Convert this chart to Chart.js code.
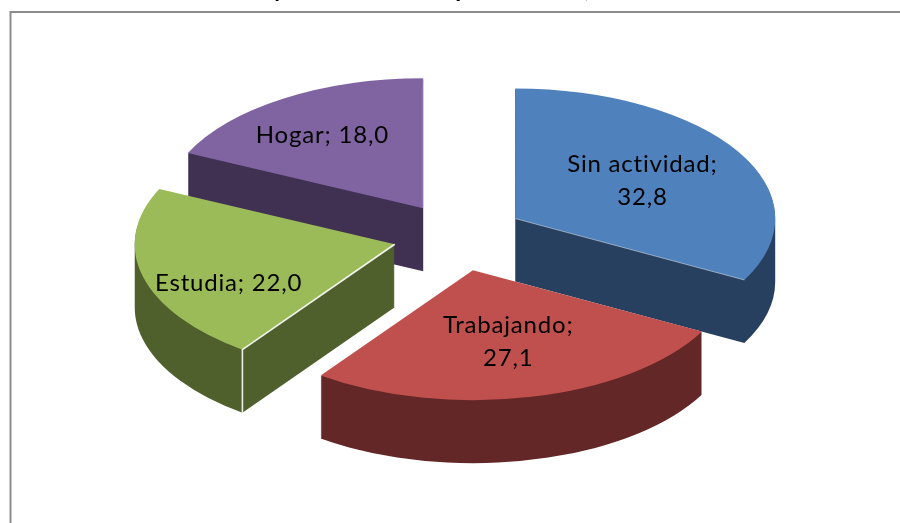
<!DOCTYPE html>
<html>
<head>
<meta charset="utf-8">
<style>html,body{margin:0;padding:0;background:#fff}canvas{display:block}</style>
<script src="https://cdn.jsdelivr.net/npm/chart.js@4"></script>
</head>
<body>
<canvas id="c" width="900" height="523"></canvas>
<script>
const categories = ['Sin actividad', 'Trabajando', 'Estudia', 'Hogar'];
const values = [32.8, 27.1, 22.0, 18.0];
const topColors = ['#4F81BD', '#C0504D', '#9BBB59', '#8064A2'];
const wallColors = ['#28405F', '#622726', '#4F602D', '#403152'];
const titleFragments = ['y', 'p', ','];

const view = {cx: 458.6, cy: 236, rx: 260, ry: 130, explode: 66, depth: 63};
const paintOrder = [3, 0, 2, 1];
const sliceShift = [[0, -0.5], [-0.5, 2], [0, 0], [0, 0]];
const labelReach = [0.57, 0.57, 0.66, 0.68];
const labelNudge = [[0, 0], [2, -1], [0, 18], [-6, 2]];
const labelWrap = [true, true, false, false];
const highlight = [0.45, 0, 0.9, 0.35];
const titleX = [279, 462, 587];

function mid(a) { return (a.startAngle + a.endAngle) / 2; }
function apex(a, i) {
  const m = mid(a);
  return {
    x: view.cx + Math.cos(m) * view.explode + sliceShift[i][0],
    y: view.cy + Math.sin(m) * view.explode * view.ry / view.rx + sliceShift[i][1]
  };
}
function place(ctx, a, i) {
  const sx = view.rx / a.outerRadius, sy = view.ry / a.outerRadius;
  const p = apex(a, i);
  ctx.translate(p.x, p.y);
  ctx.scale(sx, sy);
  ctx.translate(-a.x, -a.y);
  return sy;
}
const pie3d = {
  id: 'pie3d',
  beforeDraw(chart) {
    const ctx = chart.ctx;
    ctx.save();
    ctx.fillStyle = '#fff';
    ctx.fillRect(0, 0, 900, 523);
    ctx.strokeStyle = '#8C8C8C';
    ctx.lineWidth = 2;
    ctx.beginPath();
    ctx.moveTo(10.5, 523);
    ctx.lineTo(10.5, 12);
    ctx.lineTo(900, 12);
    ctx.stroke();
    ctx.fillStyle = '#000';
    ctx.font = 'bold 24px Lato';
    ctx.textAlign = 'center';
    ctx.textBaseline = 'alphabetic';
    titleFragments.forEach((t, i) => ctx.fillText(t, titleX[i], -3));
    ctx.restore();
  },
  beforeDatasetDraw(chart) {
    const ctx = chart.ctx;
    const arcs = chart.getDatasetMeta(0).data;
    paintOrder.forEach(i => {
      const a = arcs[i];
      ctx.save();
      const sy = place(ctx, a, i);
      ctx.fillStyle = wallColors[i];
      ctx.beginPath();
      for (let k = view.depth; k >= 1; k--) {
        ctx.moveTo(a.x, a.y + k / sy);
        ctx.arc(a.x, a.y + k / sy, a.outerRadius, a.startAngle, a.endAngle);
        ctx.closePath();
      }
      ctx.fill('nonzero');
      ctx.restore();
    });
    paintOrder.forEach(i => {
      const a = arcs[i];
      ctx.save();
      const sy = place(ctx, a, i);
      a.draw(ctx);
      if (highlight[i] > 0) {
        const edge = i === 2 ? a.startAngle : a.endAngle;
        const ex = a.x + Math.cos(edge) * a.outerRadius;
        const ey = a.y + Math.sin(edge) * a.outerRadius;
        ctx.beginPath();
        ctx.moveTo(a.x, a.y);
        ctx.lineTo(ex, ey);
        if (i === 2) {
          ctx.lineTo(ex, ey + view.depth / sy);
        }
        ctx.setTransform(1, 0, 0, 1, 0, 0);
        ctx.strokeStyle = 'rgba(255,255,255,' + highlight[i] + ')';
        ctx.lineWidth = i === 2 ? 1.6 : 1;
        ctx.stroke();
      }
      ctx.restore();
    });
    return false;
  },
  afterDatasetsDraw(chart) {
    const ctx = chart.ctx;
    const arcs = chart.getDatasetMeta(0).data;
    ctx.save();
    ctx.fillStyle = '#000';
    ctx.font = '24px Lato';
    ctx.letterSpacing = '0.8px';
    ctx.textAlign = 'center';
    ctx.textBaseline = 'middle';
    arcs.forEach((a, i) => {
      const m = mid(a);
      const p = apex(a, i);
      const x = p.x + Math.cos(m) * view.rx * labelReach[i] + labelNudge[i][0];
      const y = p.y + Math.sin(m) * view.ry * labelReach[i] + labelNudge[i][1];
      const num = values[i].toFixed(1).replace('.', ',');
      if (labelWrap[i]) {
        ctx.fillText(categories[i] + ';', x, y - 16);
        ctx.fillText(num, x, y + 17);
      } else {
        ctx.fillText(categories[i] + '; ' + num, x, y);
      }
    });
    ctx.restore();
  }
};

new Chart(document.getElementById('c'), {
  type: 'pie',
  data: {
    labels: categories,
    datasets: [{data: values, backgroundColor: topColors, borderWidth: 0}]
  },
  options: {
    responsive: false,
    animation: false,
    plugins: {legend: {display: false}, tooltip: {enabled: false}, title: {display: false}}
  },
  plugins: [pie3d]
});
</script>
</body>
</html>
